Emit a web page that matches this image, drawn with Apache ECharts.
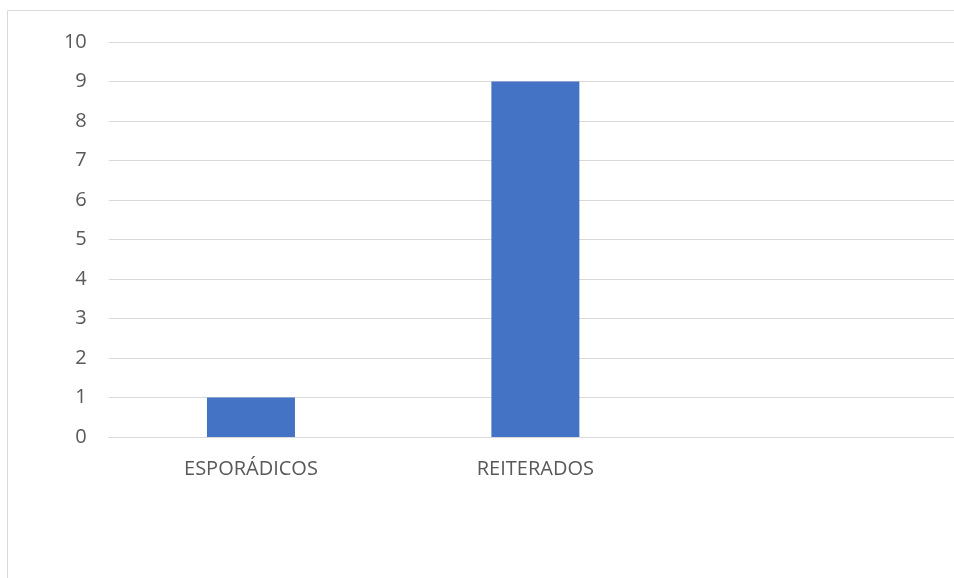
<!DOCTYPE html>
<html>
<head>
<meta charset="utf-8">
<script src="https://cdn.jsdelivr.net/npm/echarts@6/dist/echarts.min.js"></script>
<style>
  html, body { margin: 0; padding: 0; background: #fff; overflow: hidden; }
  #chart { position: absolute; left: 0; top: 0; width: 972px; height: 578px; }
</style>
</head>
<body>
<div id="chart"></div>
<script>
// Categories along the x axis (third slot is left blank)
const categories = ['ESPORÁDICOS', 'REITERADOS', ''];
// Count per category
const counts = [1, 9, null];
// Value axis range
const yMin = 0;
const yMax = 10;
const yStep = 1;

const chart = echarts.init(document.getElementById('chart'), null, { renderer: 'canvas' });
const labelFont = '"Open Sans", "Noto Sans", sans-serif';

chart.setOption({
  animation: false,
  backgroundColor: '#ffffff',
  graphic: [{
    type: 'rect',
    shape: { x: 7.5, y: 10.5, width: 1000, height: 700 },
    style: { fill: 'none', stroke: '#d9d9d9', lineWidth: 1 },
    silent: true,
    z: -1
  }],
  grid: { left: 108.75, right: 10, top: 42, bottom: 141 },
  xAxis: {
    type: 'category',
    data: categories,
    axisLine: { show: true, lineStyle: { color: '#d9d9d9', width: 1 } },
    axisTick: { show: false },
    axisLabel: { color: '#595959', fontSize: 20, fontFamily: labelFont, margin: 22 }
  },
  yAxis: {
    type: 'value',
    min: yMin,
    max: yMax,
    interval: yStep,
    axisLine: { show: false },
    axisTick: { show: false },
    splitLine: { lineStyle: { color: '#d9d9d9', width: 1 } },
    axisLabel: { color: '#595959', fontSize: 20, fontFamily: labelFont, margin: 22 }
  },
  series: [{
    type: 'bar',
    data: counts,
    barWidth: 88,
    itemStyle: { color: '#4472c4' }
  }]
});
</script>
</body>
</html>
